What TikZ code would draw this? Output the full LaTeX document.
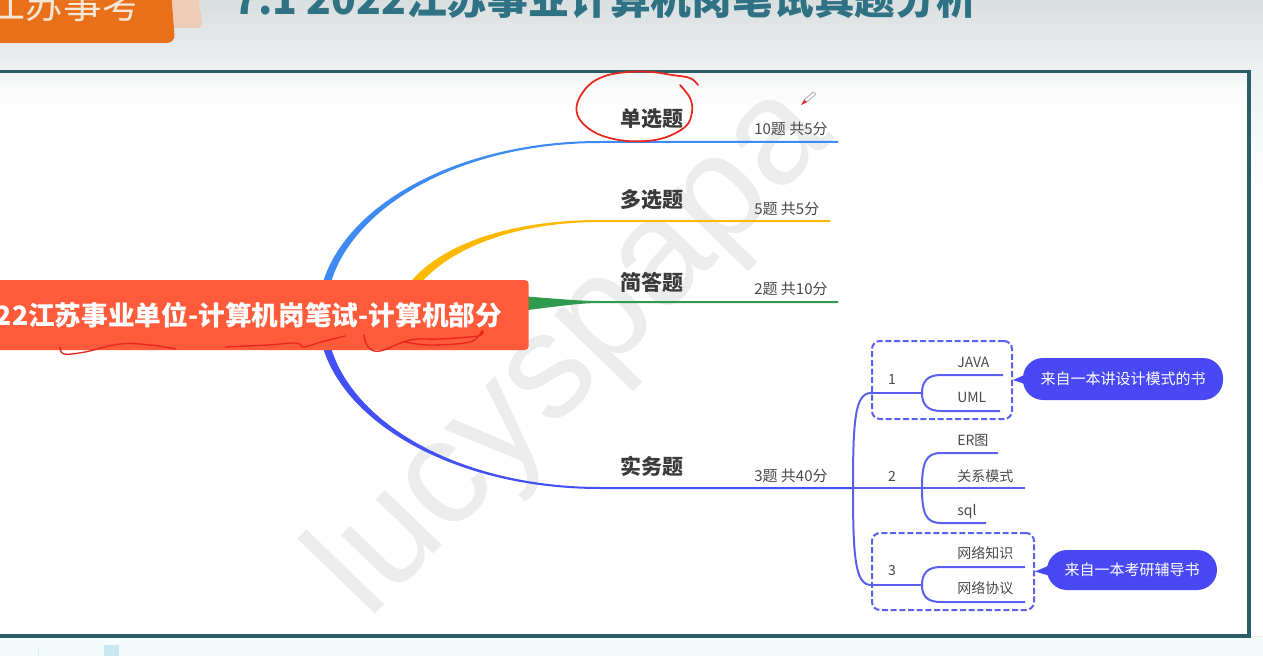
\documentclass[tikz,border=0pt]{standalone}
\usepackage{fontspec}
\setmainfont{Noto Sans CJK SC}
\newfontfamily\wmfont{Liberation Sans}
\newcommand\fsz[1]{\fontsize{#1}{#1}\selectfont}
\definecolor{hdrtop}{HTML}{D9DEE0}
\definecolor{hdrbot}{HTML}{EEF1F1}
\definecolor{tabor}{HTML}{E8701A}
\definecolor{peach}{HTML}{EDCDB8}
\definecolor{tabtxt}{HTML}{F6E6D6}
\definecolor{titlec}{HTML}{2F7284}
\definecolor{framec}{HTML}{2B5E6B}
\definecolor{belowc}{HTML}{F4FBFC}
\definecolor{blockc}{HTML}{C8E8F2}
\definecolor{rootc}{HTML}{FF5B3A}
\definecolor{cblue}{HTML}{3D8BF2}
\definecolor{cyellow}{HTML}{FDB900}
\definecolor{cgreen}{HTML}{2E9B4E}
\definecolor{cviolet}{HTML}{4350F5}
\definecolor{csub}{HTML}{5A60EE}
\definecolor{cpill}{HTML}{4848F4}
\definecolor{cdark}{HTML}{3A3A3A}
\definecolor{cgray}{HTML}{4A4A4A}
\definecolor{cred}{HTML}{E8261C}
\definecolor{wmc}{HTML}{ECECEC}
\begin{document}
\begin{tikzpicture}[x=0.75pt,y=-0.75pt,
  head/.style={inner sep=0pt, text=cdark, font=\fsz{15.75pt}\bfseries},
  note/.style={inner sep=0pt, anchor=west, text=cgray, font=\fsz{11.25pt}},
  leaf/.style={inner sep=0pt, anchor=west, text=cgray, font=\fsz{10.5pt}},
  sub/.style={draw=csub, line width=1.5pt},
  dbox/.style={draw=csub, line width=1.5pt, dash pattern=on 4.5pt off 2pt, rounded corners=6pt, anchor=north west, inner sep=0pt},
  pill/.style={fill=cpill, text=white, rounded corners=15pt, inner sep=0pt, font=\fsz{11.25pt}},
  redpen/.style={draw=cred, line width=1.3pt, line cap=round, line join=round}]
\useasboundingbox (0,0) rectangle (1263,656);
\clip (0,0) rectangle (1263,656);
% backgrounds
\fill[hdrbot] (0,0) rectangle (1263,656);
\shade[top color=hdrtop, bottom color=hdrbot] (0,0) rectangle (1263,70);
\shade[top color=hdrbot, bottom color=white] (1250,70) rectangle (1263,200);
\fill[white] (1250,200) rectangle (1263,636);
\fill[belowc] (0,637) rectangle (1263,656);
\draw[blockc!60, line width=0.6pt] (38,646) -- (38,656);
\fill[blockc] (104,645) rectangle (119,656);
% frame interior
\fill[white] (-10,72) rectangle (1248,635);
\shade[top color=hdrbot!70, bottom color=white] (-10,73) rectangle (1248,108);
% watermark
\node[inner sep=0pt, anchor=base west, rotate=46, text=wmc, font=\wmfont\fsz{112pt}] (wm) at (368,622) {lucyspapa};
% frame
\draw[framec, line width=2.6pt] (-10,71.5) -- (1249,71.5) -- (1249,636) -- (-10,636);
% header tab and title
\fill[peach, rounded corners=5pt] (150,-10) -- (197,-10) -- (203,28) -- (150,28) -- cycle;
\fill[tabor, rounded corners=6pt] (-10,-10) -- (171,-10) -- (175,43) -- (-10,43) -- cycle;
\node[inner sep=0pt, anchor=base east, text=tabtxt, font=\fsz{29pt}] (tab) at (141,19) {江苏事考};
\node[inner sep=0pt, anchor=base west, text=titlec, font=\fsz{30.6pt}\bfseries] (title) at (233,15) {7.1 2022江苏事业计算机岗笔试真题分析};
% branch shapes
\coordinate (bl) at (838,142);
\coordinate (yl) at (830,221);
\coordinate (gl) at (838,302);
\coordinate (br) at (853,488);
\fill[cblue] (318,315) .. controls (318,219) and (444,141) .. (600,141) -- (838,141) -- (838,143) -- (600,143) .. controls (446,143) and (326,221) .. (326,315) -- cycle;
\fill[cviolet] (318,315) .. controls (318,411) and (444,489) .. (600,489) -- (853,489) -- (853,487) -- (600,487) .. controls (446,487) and (326,409) .. (326,315) -- cycle;
\fill[cyellow] (396,305) .. controls (420,250) and (500,220) .. (600,220) -- (830,220) -- (830,222) -- (600,222) .. controls (505,222) and (430,255) .. (406,305) -- cycle;
\fill[cgreen] (520,296) .. controls (560,299) and (580,301) .. (600,301) -- (838,301) -- (838,303) -- (600,303) .. controls (580,303) and (560,306) .. (520,311) -- cycle;
% root
\node[fill=rootc, rounded corners=3pt, anchor=east, minimum height=52.5pt, inner xsep=20pt, inner ysep=0pt, text=white, font=\fsz{20pt}\bfseries] (root) at (529,315) {2022江苏事业单位-计算机岗笔试-计算机部分};
% main labels
\node[head] (h1) at (652,119) {单选题};
\node[head] (h2) at (652,200) {多选题};
\node[head] (h3) at (652,282) {简答题};
\node[head] (h4) at (652,466) {实务题};
\node[note] (n1) at (754,129) {10题 共5分};
\node[note] (n2) at (754,209) {5题 共5分};
\node[note] (n3) at (754,289) {2题 共10分};
\node[note] (n4) at (754,476) {3题 共40分};
% subtree
\coordinate (b1) at (871,393);
\coordinate (b3) at (871,585);
\coordinate (f1) at (922,393);
\coordinate (f2) at (922,488);
\coordinate (f3) at (922,585);
\draw[sub] (b1) .. controls (855,393) and (853,420) .. (br) .. controls (853,556) and (855,585) .. (b3);
\draw[sub] (b1) -- (f1);
\draw[sub] (br) -- (1025,488);
\draw[sub] (b3) -- (f3);
\draw[sub] (1003,375) -- (941,375) .. controls (928,375) and (922,381) .. (f1) .. controls (922,405) and (928,411) .. (941,411) -- (1000,411);
\draw[sub] (998,453) -- (941,453) .. controls (926,453) and (922,462) .. (f2) .. controls (922,514) and (926,523) .. (941,523) -- (986,523);
\draw[sub] (1025,567) -- (941,567) .. controls (928,567) and (922,573) .. (f3) .. controls (922,597) and (928,602) .. (941,602) -- (1025,602);
\node[leaf, anchor=center] (k1) at (892,380) {1};
\node[leaf, anchor=center] (k2) at (892,476) {2};
\node[leaf, anchor=center] (k3) at (892,571) {3};
\node[leaf] (l1) at (957,362) {JAVA};
\node[leaf] (l2) at (957,397) {UML};
\node[leaf] (l3) at (957,440) {ER图};
\node[leaf] (l4) at (957,476) {关系模式};
\node[leaf] (l5) at (957,512) {sql};
\node[leaf] (l6) at (957,553) {网络知识};
\node[leaf] (l7) at (957,588) {网络协议};
\node[dbox, minimum width=105pt, minimum height=58.5pt] (box1) at (871,340) {};
\node[dbox, minimum width=121.5pt, minimum height=57.75pt] (box3) at (871,532) {};
\node[pill, minimum width=150pt, minimum height=31.5pt] (c1) at (1123,379) {来自一本讲设计模式的书};
\node[pill, minimum width=127.5pt, minimum height=30pt] (c2) at (1132,570) {来自一本考研辅导书};
\fill[cpill] (box1.east) -- ([xshift=8pt,yshift=6pt]c1.west) -- ([xshift=8pt,yshift=-6pt]c1.west) -- cycle;
\fill[cpill] (box3.east) -- ([xshift=8pt,yshift=6pt]c2.west) -- ([xshift=8pt,yshift=-6pt]c2.west) -- cycle;
% red annotations
\draw[redpen] plot[smooth, tension=0.6] coordinates {(680,85) (690,98) (692,112) (685,127) (660,139) (627,141) (598,134) (580,120) (577,104) (588,86) (605,76) (628,72) (652,72) (672,75) (690,78) (698,85)};
\draw[redpen, line width=1pt] plot[smooth, tension=0.6] coordinates {(60,347) (64,354) (85,352) (120,344) (150,345) (176,349)};
\draw[redpen, line width=1pt] plot[smooth, tension=0.6] coordinates {(225,347) (268,345) (296,343) (304,347) (321,342) (345,336)};
\draw[redpen, line width=1pt] plot[smooth, tension=0.6] coordinates {(364,335) (368,347) (380,351) (410,340) (440,339) (478,336) (482,331) (470,342) (430,345) (405,342)};
\draw[gray!70, line width=0.5pt] (813,92) -- (804,100) -- (807,102) -- (816,94) -- cycle;
\fill[cred] (804,100) -- (807,102) -- (801,105) -- cycle;
\end{tikzpicture}
\end{document}
